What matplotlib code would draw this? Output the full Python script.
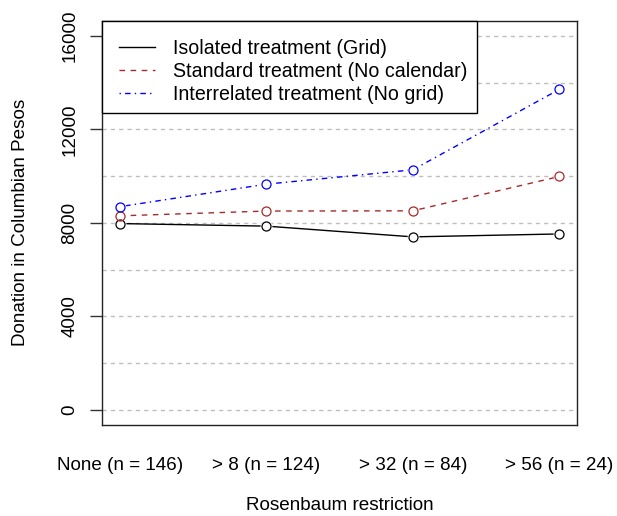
import matplotlib
matplotlib.use("Agg")
import numpy as np
import matplotlib.pyplot as plt
from matplotlib.lines import Line2D
from matplotlib.legend_handler import HandlerLine2D

categories = ["None (n = 146)", "> 8 (n = 124)", "> 32 (n = 84)", "> 56 (n = 24)"]
isolated = [7970, 7860, 7400, 7525]
standard = [8300, 8505, 8515, 9985]
interrelated = [8690, 9655, 10270, 13715]
series_labels = ["Isolated treatment (Grid)",
                 "Standard treatment (No calendar)",
                 "Interrelated treatment (No grid)"]
yticks = [0, 4000, 8000, 12000, 16000]
grid_levels = list(range(0, 16001, 2000))

plt.rcParams['font.family'] = ['Liberation Sans', 'DejaVu Sans']
FS = 13.6
LFS = 14.1


class OffsetLineHandler(HandlerLine2D):
    """Line sample that starts a little right of the handle box (like R legends)."""
    def __init__(self, offset_pt=5.0, **kw):
        super().__init__(**kw)
        self.offset_pt = offset_pt

    def create_artists(self, legend, orig_handle, xdescent, ydescent, width,
                       height, fontsize, trans):
        arts = super().create_artists(legend, orig_handle, xdescent, ydescent,
                                      width, height, fontsize, trans)
        for a in arts:
            xd = np.asarray(a.get_xdata(), dtype=float)
            if len(xd) >= 2:
                a.set_xdata(np.linspace(xd[0] + self.offset_pt, xd[-1], len(xd)))
        return arts


fig = plt.figure(figsize=(6.17, 5.16), dpi=100)
ax = fig.add_axes([102/617, 1 - 424.7/516, (577 - 102)/617, (424.7 - 21)/516])

x = list(range(1, len(categories) + 1))

for g in grid_levels:
    ax.axhline(g, color='#BEBEBE', lw=1.0, ls=(0, (3, 3)), zorder=1)

styles = [
    dict(color='black', ls='-'),
    dict(color='#A52A2A', ls=(0, (4, 4))),
    dict(color='blue', ls=(0, (1, 3, 4, 3))),
]
for vals, st in zip([isolated, standard, interrelated], styles):
    ax.plot(x, vals, color=st['color'], ls=st['ls'], lw=1.0, zorder=2)
    ax.plot(x, vals, ls='none', marker='o', markersize=7, markerfacecolor='white',
            markeredgecolor='white', markeredgewidth=1.5, zorder=3)
    ax.plot(x, vals, ls='none', marker='o', markersize=6.5, markerfacecolor='none',
            markeredgecolor=st['color'], markeredgewidth=0.9, zorder=4)

ax.set_xlim(0.88, 4.12)
ax.set_ylim(-640, 16640)
ax.set_yticks(yticks)
ax.set_yticklabels([str(t) for t in yticks], rotation=90, va='center', fontsize=FS)
ax.set_xticks(x)
ax.set_xticklabels(categories, fontsize=FS)
ax.tick_params(axis='x', length=0, pad=23)
ax.tick_params(axis='y', length=9, width=1, pad=8, color='#333333')
for s in ax.spines.values():
    s.set_linewidth(1.0)
    s.set_color('#222222')

ax.set_ylabel("Donation in Columbian Pesos", fontsize=FS, labelpad=23)
ax.set_xlabel("Rosenbaum restriction", fontsize=FS, labelpad=17)

handles = [Line2D([], [], color=st['color'], ls=st['ls'], lw=1.0) for st in styles]
leg = ax.legend(handles, series_labels, loc='upper left', bbox_to_anchor=(0, 1),
                borderaxespad=0, fontsize=LFS, fancybox=False, framealpha=1,
                edgecolor='black', handlelength=2.2, handletextpad=0.92,
                borderpad=0.5, labelspacing=0.2, title=" ", title_fontsize=3,
                handler_map={Line2D: OffsetLineHandler(offset_pt=5.0)})
leg.get_frame().set_linewidth(1.0)
leg.set_zorder(10)

fig.savefig("out.png", dpi=100)
